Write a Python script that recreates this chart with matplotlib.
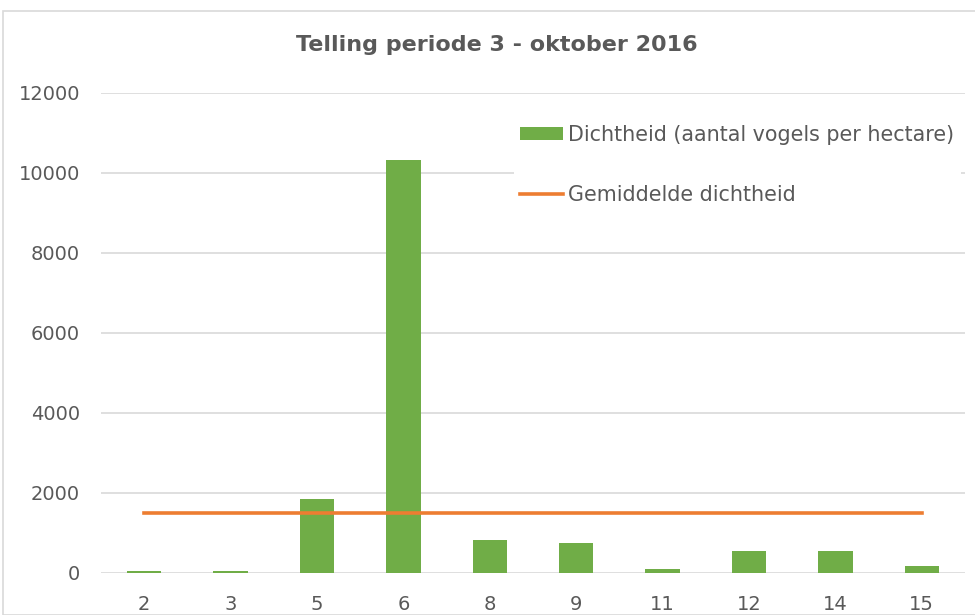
import matplotlib
matplotlib.use("Agg")
import matplotlib.pyplot as plt
from matplotlib.patches import Rectangle, Patch
from matplotlib.lines import Line2D

categories = ["2", "3", "5", "6", "8", "9", "11", "12", "14", "15"]
dichtheid = [50, 50, 1860, 10330, 815, 740, 90, 540, 540, 175]
gemiddelde = [1510] * len(categories)
yticks = [0, 2000, 4000, 6000, 8000, 10000, 12000]

green = "#70AD47"
orange = "#ED7D31"
textc = "#595959"
gridc = "#D9D9D9"

plt.rcParams['font.family'] = ['DejaVu Sans']

fig = plt.figure(figsize=(9.75, 6.15), dpi=100)
ax = fig.add_axes([101/975, 42/615, 864/975, 480/615])

x = list(range(len(categories)))
ax.bar(x, dichtheid, width=0.4, color=green, zorder=3,
       label="Dichtheid (aantal vogels per hectare)")
ax.plot(x, gemiddelde, color=orange, linewidth=2.6, zorder=4,
        label="Gemiddelde dichtheid")

ax.set_xlim(-0.5, len(categories) - 0.5)
ax.set_ylim(0, 12000)
ax.set_yticks(yticks)
ax.set_xticks(x)
ax.set_xticklabels(categories)
ax.grid(axis='y', color=gridc, linewidth=1.2, zorder=0)
for s in ax.spines.values():
    s.set_visible(False)
ax.tick_params(axis='both', length=0, labelsize=14, colors=textc)
ax.tick_params(axis='x', pad=16)
ax.tick_params(axis='y', pad=15)

fig.text(0.51, 0.927, "Telling periode 3 - oktober 2016", ha='center', va='center',
         fontsize=16, fontweight='bold', color=textc)

handles = [Patch(facecolor=green, edgecolor='none'),
           Line2D([0], [0], color=orange, linewidth=2.6)]
labels = ["Dichtheid (aantal vogels per hectare)", "Gemiddelde dichtheid"]
fs = 14.9
leg = ax.legend(handles, labels, loc='upper left',
                bbox_to_anchor=((514 - 101) / 864, 1 - (119 - 93) / 480),
                frameon=True, fontsize=fs, labelcolor=textc, handlelength=2.05,
                handleheight=0.6, labelspacing=1.9, handletextpad=0.28,
                borderpad=0.3, borderaxespad=0, fancybox=False)
leg.get_frame().set_facecolor('white')
leg.get_frame().set_edgecolor('none')
leg.get_frame().set_alpha(1)

fig.patches.append(Rectangle((3/975, 0), 1.0, 1 - 11/615, transform=fig.transFigure,
                             fill=False, edgecolor=gridc, linewidth=1.2))

fig.savefig("out.png", dpi=100)
